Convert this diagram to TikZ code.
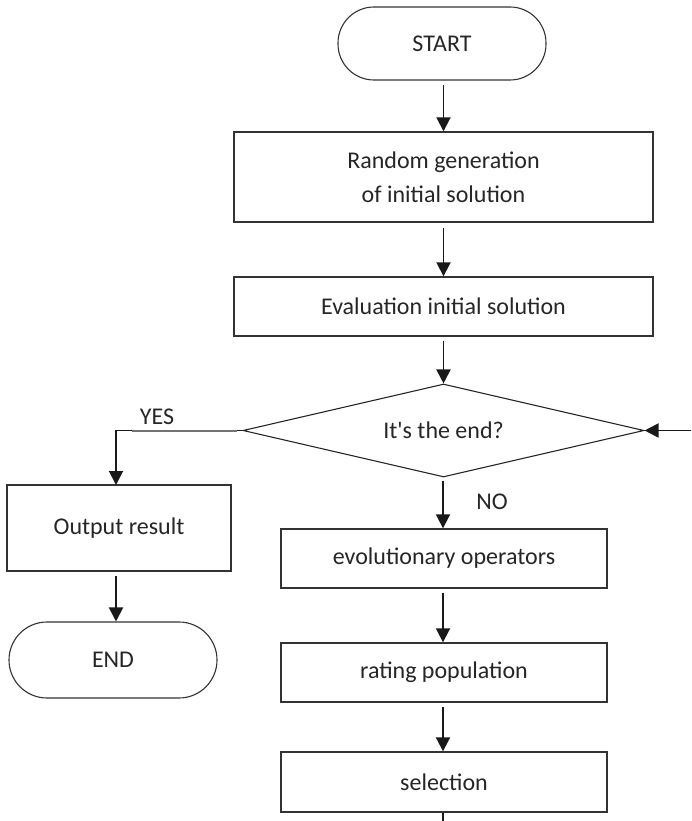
\documentclass[tikz,border=0pt]{standalone}
\usepackage{fontspec}
\setmainfont{Carlito}[Ligatures=TeXOff]
\usetikzlibrary{shapes.geometric,arrows.meta,calc}
\begin{document}
\begin{tikzpicture}[x=1pt,y=-1pt,
  every node/.style={font=\fontsize{24}{34}\selectfont, text=black!85, inner sep=0pt},
  procbox/.style={draw=black!80, line width=1.4pt, rectangle, fill=white},
  termbox/.style={draw=black!80, line width=1.1pt, rectangle, rounded corners=36pt},
  decbox/.style={draw=black!85, line width=1.1pt, diamond, aspect=4.3, minimum width=401pt, minimum height=93pt},
  arr/.style={draw=black!90, line width=1.9pt, -{Triangle[length=14pt,width=14pt]}},
  plainline/.style={draw=black!90, line width=1.9pt}
]
\useasboundingbox (0,0) rectangle (691,821);

\node[termbox, minimum width=208pt, minimum height=73pt] (start) at (442,43.5) {START};
\node[procbox, minimum width=419pt, minimum height=90pt, align=center] (gen) at (443.5,177) {Random generation\\of initial solution};
\node[procbox, minimum width=419pt, minimum height=59pt] (eval) at (443.5,306.5) {Evaluation initial solution};
\node[decbox] (dec) at (443.5,430.5) {It's the end?};
\node[procbox, minimum width=224pt, minimum height=86pt] (out) at (119,528) {Output result};
\node[termbox, minimum width=208pt, minimum height=76pt, rounded corners=38pt] (end) at (113,660) {END};
\node[procbox, minimum width=326pt, minimum height=59pt] (evo) at (444,558.5) {evolutionary operators};
\node[procbox, minimum width=326pt, minimum height=59pt] (rate) at (444,672.5) {rating population};
\node[procbox, minimum width=326pt, minimum height=60pt] (sel) at (444,782) {selection};

\coordinate (yesdown) at (116,485);
\coordinate (loopin) at (691,430.5);
\coordinate (selout) at (443,821);

\draw[arr, shorten <=5pt] (443.5,80) coordinate (s0) -- (s0 |- gen.north);
\draw[arr, shorten <=6pt] (443.5,222) coordinate (g0) -- (g0 |- eval.north);
\draw[arr, shorten <=4pt] (eval.south) -- (dec.north);
\draw[arr] (dec.west) -| (yesdown);
\draw[draw=black!55, line width=2pt] (132,430.5) -- (237,430.5);
\node (yes) at (157,417) {YES};
\draw[arr, shorten <=5pt] (116,571) coordinate (o0) -- (o0 |- end.north);
\draw[arr, shorten <=4pt] (443,477) coordinate (d0) -- (d0 |- evo.north);
\node (no) at (492,502) {NO};
\draw[arr, shorten <=5pt] (443,588) coordinate (e0) -- (e0 |- rate.north);
\draw[arr, shorten <=5pt] (443,702) coordinate (r0) -- (r0 |- sel.north);
\draw[plainline] (sel.south -| selout) -- (selout);
\draw[arr] (loopin) -- (dec.east);
\end{tikzpicture}
\end{document}
